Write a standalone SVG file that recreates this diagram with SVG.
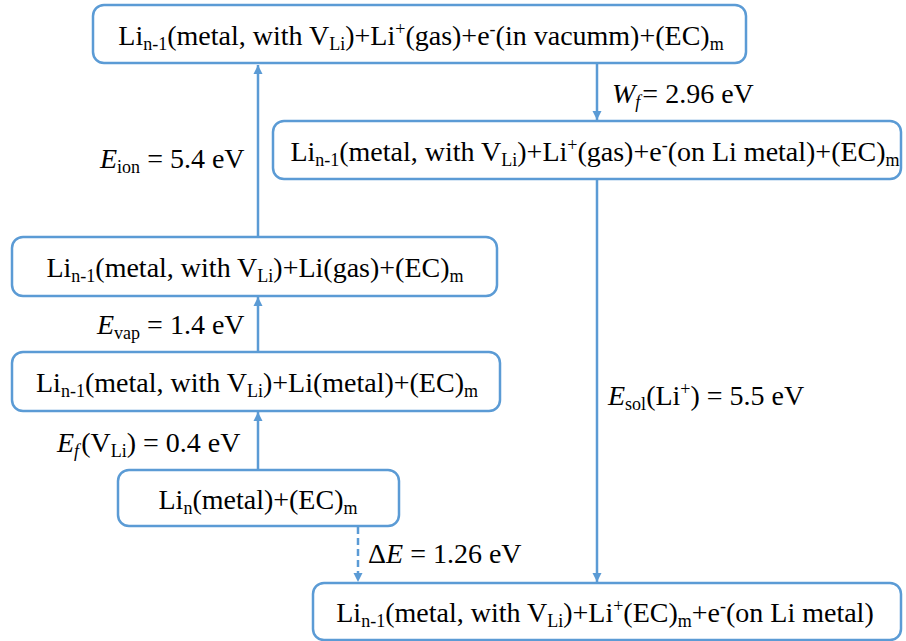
<svg xmlns="http://www.w3.org/2000/svg" width="906" height="641" viewBox="0 0 906 641">
<defs>
<marker id="ah" viewBox="0 0 10 10" refX="10" refY="5" markerWidth="9" markerHeight="10" markerUnits="userSpaceOnUse" orient="auto">
<path d="M0,0 L10,5 L0,10 z" fill="#5B9BD5"/>
</marker>
</defs>
<style>
.box{fill:#fff;stroke:#5B9BD5;stroke-width:2.5}
.ln{stroke:#5B9BD5;stroke-width:2.5;fill:none}
.t{font-family:"Liberation Serif","Times New Roman",serif;font-size:28px;fill:#000}
.c{text-anchor:middle}
.s{font-size:18px}
.i{font-style:italic}
</style>
<rect width="906" height="641" fill="#fff"/>
<g id="connectors">
<line class="ln" x1="258" y1="237" x2="258" y2="65" marker-end="url(#ah)"/>
<line class="ln" x1="597" y1="64" x2="597" y2="120" marker-end="url(#ah)"/>
<line class="ln" x1="258" y1="352" x2="258" y2="297" marker-end="url(#ah)"/>
<line class="ln" x1="258" y1="470" x2="258" y2="412" marker-end="url(#ah)"/>
<line class="ln" x1="358" y1="527" x2="358" y2="582" stroke-dasharray="7,4" marker-end="url(#ah)"/>
<line class="ln" x1="597" y1="180" x2="597" y2="582" marker-end="url(#ah)"/>
</g>
<g id="labels">
<text class="t" x="612" y="103"><tspan class="i">W</tspan><tspan class="s i" dy="5">f</tspan><tspan dx="2" dy="-5">= 2.96 eV</tspan></text>
<text class="t" x="100" y="168"><tspan class="i">E</tspan><tspan class="s" dy="5">ion</tspan><tspan dy="-5"> = 5.4 eV</tspan></text>
<text class="t" x="97" y="334"><tspan class="i">E</tspan><tspan class="s" dy="5">vap</tspan><tspan dy="-5"> = 1.4 eV</tspan></text>
<text class="t" x="57" y="452"><tspan class="i">E</tspan><tspan class="s i" dy="5">f</tspan><tspan dx="2" dy="-5">(V</tspan><tspan class="s" dy="5">Li</tspan><tspan dy="-5">) = 0.4 eV</tspan></text>
<text class="t" x="368" y="563">Δ<tspan class="i">E</tspan> = 1.26 eV</text>
<text class="t" x="608" y="405"><tspan class="i">E</tspan><tspan class="s" dy="5">sol</tspan><tspan dy="-5">(Li</tspan><tspan class="s" dy="-10">+</tspan><tspan dy="10">) = 5.5 eV</tspan></text>
</g>
<g id="n1">
<rect class="box" x="93" y="5" width="653" height="58" rx="11"/>
<text class="t c" x="421" y="45">Li<tspan class="s" dy="5">n-1</tspan><tspan dy="-5">(metal, with V</tspan><tspan class="s" dy="5">Li</tspan><tspan dy="-5">)+Li</tspan><tspan class="s" dy="-10">+</tspan><tspan dy="10">(gas)+e</tspan><tspan class="s" dy="-10">-</tspan><tspan dy="10">(in vacumm)+(EC)</tspan><tspan class="s" dy="5">m</tspan></text>
</g>
<g id="n2">
<rect class="box" x="273" y="121" width="628" height="58" rx="11"/>
<text class="t c" x="595" y="161">Li<tspan class="s" dy="5">n-1</tspan><tspan dy="-5">(metal, with V</tspan><tspan class="s" dy="5">Li</tspan><tspan dy="-5">)+Li</tspan><tspan class="s" dy="-10">+</tspan><tspan dy="10">(gas)+e</tspan><tspan class="s" dy="-10">-</tspan><tspan dy="10">(on Li metal)+(EC)</tspan><tspan class="s" dy="5">m</tspan></text>
</g>
<g id="n3">
<rect class="box" x="12" y="237" width="485" height="59" rx="11"/>
<text class="t c" x="255" y="277">Li<tspan class="s" dy="5">n-1</tspan><tspan dy="-5">(metal, with V</tspan><tspan class="s" dy="5">Li</tspan><tspan dy="-5">)+Li(gas)+(EC)</tspan><tspan class="s" dy="5">m</tspan></text>
</g>
<g id="n4">
<rect class="box" x="12" y="352" width="488" height="59" rx="11"/>
<text class="t c" x="257" y="392">Li<tspan class="s" dy="5">n-1</tspan><tspan dy="-5">(metal, with V</tspan><tspan class="s" dy="5">Li</tspan><tspan dy="-5">)+Li(metal)+(EC)</tspan><tspan class="s" dy="5">m</tspan></text>
</g>
<g id="n5">
<rect class="box" x="118" y="470" width="281" height="56" rx="11"/>
<text class="t c" x="258" y="509">Li<tspan class="s" dy="5">n</tspan><tspan dy="-5">(metal)+(EC)</tspan><tspan class="s" dy="5">m</tspan></text>
</g>
<g id="n6">
<rect class="box" x="313" y="583" width="588" height="57" rx="11"/>
<text class="t c" x="605" y="622">Li<tspan class="s" dy="5">n-1</tspan><tspan dy="-5">(metal, with V</tspan><tspan class="s" dy="5">Li</tspan><tspan dy="-5">)+Li</tspan><tspan class="s" dy="-10">+</tspan><tspan dy="10">(EC)</tspan><tspan class="s" dy="5">m</tspan><tspan dy="-5">+e</tspan><tspan class="s" dy="-10">-</tspan><tspan dy="10">(on Li metal)</tspan></text>
</g>
</svg>
